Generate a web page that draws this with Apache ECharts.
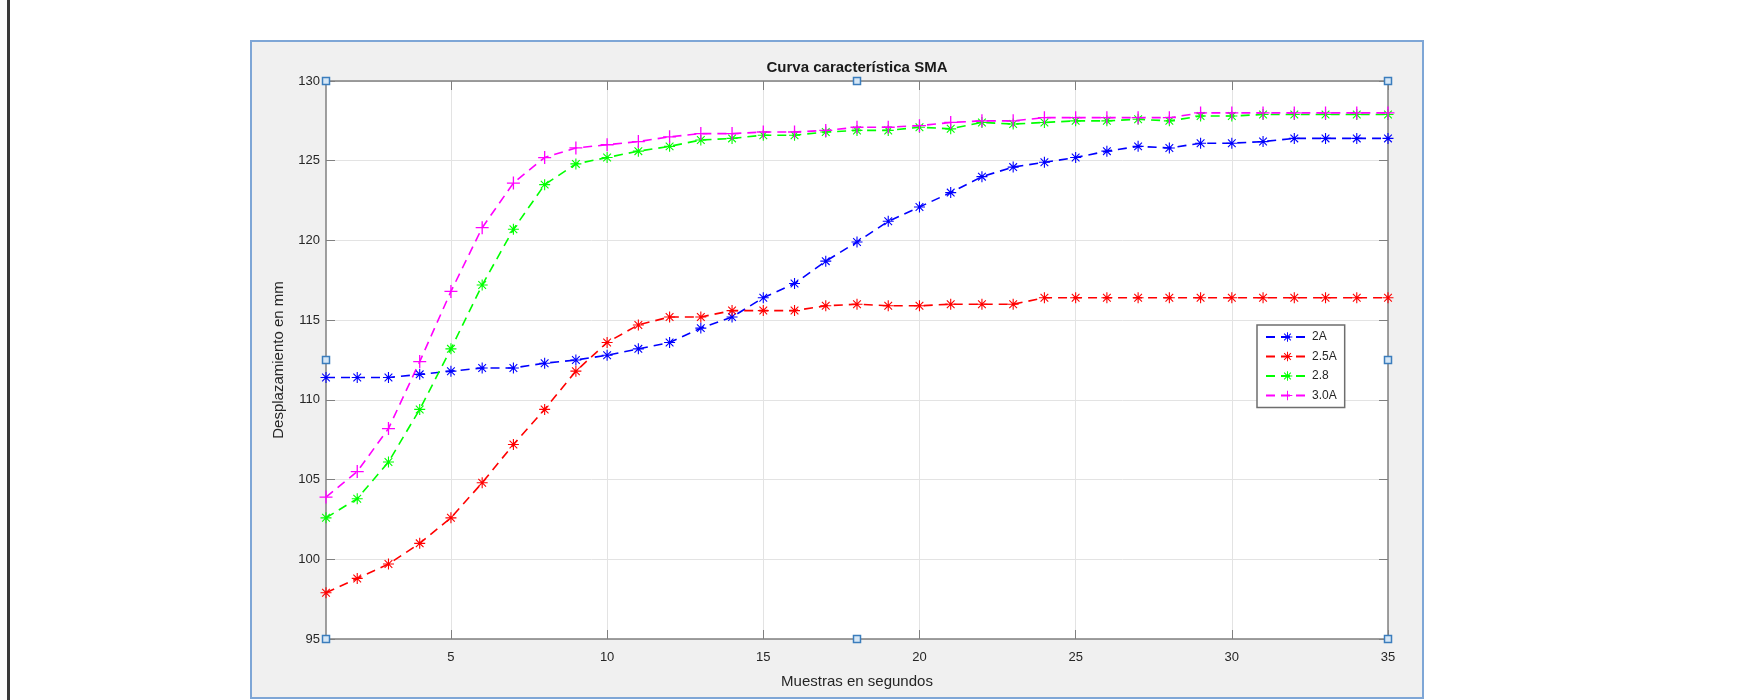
<!DOCTYPE html>
<html>
<head>
<meta charset="utf-8">
<title>Curva característica SMA</title>
<script src="https://cdn.jsdelivr.net/npm/echarts@6/dist/echarts.min.js"></script>
<style>
  html, body { margin: 0; padding: 0; background: #fff; }
  #chart { width: 1749px; height: 700px; }
</style>
</head>
<body>
<div id="chart"></div>
<script>
// muestras (segundos)
var muestras = [1,2,3,4,5,6,7,8,9,10,11,12,13,14,15,16,17,18,19,20,21,22,23,24,25,26,27,28,29,30,31,32,33,34,35];

// desplazamiento en mm
var d2A  = [111.4,111.4,111.4,111.6,111.8,112.0,112.0,112.3,112.5,112.8,113.2,113.6,114.5,115.2,116.4,117.3,118.7,119.9,121.2,122.1,123.0,124.0,124.6,124.9,125.2,125.6,125.9,125.8,126.1,126.1,126.2,126.4,126.4,126.4,126.4];
var d25A = [97.9,98.8,99.7,101.0,102.6,104.8,107.2,109.4,111.8,113.6,114.7,115.2,115.2,115.6,115.6,115.6,115.9,116.0,115.9,115.9,116.0,116.0,116.0,116.4,116.4,116.4,116.4,116.4,116.4,116.4,116.4,116.4,116.4,116.4,116.4];
var d28  = [102.6,103.8,106.1,109.4,113.2,117.2,120.7,123.5,124.8,125.2,125.6,125.9,126.3,126.4,126.6,126.6,126.8,126.9,126.9,127.1,127.0,127.4,127.3,127.4,127.5,127.5,127.6,127.5,127.8,127.8,127.9,127.9,127.9,127.9,127.9];
var d30A = [103.9,105.5,108.2,112.4,116.8,120.8,123.6,125.2,125.8,126.0,126.2,126.5,126.7,126.7,126.8,126.8,126.9,127.1,127.1,127.2,127.4,127.5,127.5,127.7,127.7,127.7,127.7,127.7,128.0,128.0,128.0,128.0,128.0,128.0,128.0];

var xTicks = [5,10,15,20,25,30,35];
var yTicks = [95,100,105,110,115,120,125,130];

// marcadores tipo matlab
var asterisco = 'path://M0 9H20V11H0Z M9 0H11V20H9Z M2.3 3.7L3.7 2.3L17.7 16.3L16.3 17.7Z M16.3 2.3L17.7 3.7L3.7 17.7L2.3 16.3Z';
var cruz = 'path://M0 9H20V11H0Z M9 0H11V20H9Z';

var fuente = 'Liberation Sans, Arial, sans-serif';
var ejeColor = '#808080';

function pares(ys) {
    var out = [];
    for (var i = 0; i < muestras.length; i++) {
        out.push([muestras[i], ys[i]]);
    }
    return out;
}

function serie(nombre, ys, color, simbolo, tam) {
    return {
        name: nombre,
        type: 'line',
        data: pares(ys),
        symbol: simbolo,
        symbolSize: tam,
        showAllSymbol: true,
        itemStyle: { color: color },
        lineStyle: { color: color, width: 1.6, type: [9, 6] },
        emphasis: { disabled: true },
        z: 3
    };
}

var chart = echarts.init(document.getElementById('chart'));

var option = {
    animation: false,
    backgroundColor: '#ffffff',
    title: {
        text: 'Curva característica SMA',
        left: 857,
        textAlign: 'center',
        top: 60,
        padding: 0,
        textStyle: { fontFamily: fuente, fontSize: 15, fontWeight: 'bold', color: '#1a1a1a' }
    },
    grid: {
        left: 326, right: 361, top: 81, bottom: 61,
        show: true, backgroundColor: '#ffffff', borderWidth: 0
    },
    legend: {
        orient: 'vertical',
        left: 1257, top: 325,
        itemWidth: 43, itemHeight: 12, itemGap: 7.5,
        padding: [6, 8, 6, 8],
        backgroundColor: '#ffffff',
        borderColor: '#6e6e6e', borderWidth: 1.5,
        textStyle: { fontFamily: fuente, fontSize: 12, color: '#262626', padding: [0, 0, 0, -2] },
        data: ['2A', '2.5A', '2.8', '3.0A']
    },
    xAxis: [{
        type: 'value', min: 1, max: 35,
        name: 'Muestras en segundos', nameLocation: 'middle', nameGap: 35,
        nameTextStyle: { fontFamily: fuente, fontSize: 15, color: '#262626' },
        axisLine: { lineStyle: { color: ejeColor, width: 1.5 } },
        axisTick: { inside: true, length: 9, customValues: xTicks, lineStyle: { color: ejeColor } },
        axisLabel: { customValues: xTicks, margin: 12, fontFamily: fuente, fontSize: 13, color: '#262626' },
        splitLine: { show: true, lineStyle: { color: '#e3e3e3', width: 1 } }
    }, {
        type: 'value', min: 1, max: 35, position: 'top',
        axisLine: { lineStyle: { color: ejeColor, width: 1.5 } },
        axisTick: { inside: true, length: 9, customValues: xTicks, lineStyle: { color: ejeColor } },
        axisLabel: { show: false },
        splitLine: { show: false }
    }],
    yAxis: [{
        type: 'value', min: 95, max: 130, interval: 5,
        name: 'Desplazamiento en mm', nameLocation: 'middle', nameGap: 40,
        nameTextStyle: { fontFamily: fuente, fontSize: 15, color: '#262626' },
        axisLine: { show: true, lineStyle: { color: ejeColor, width: 1.5 } },
        axisTick: { show: true, inside: true, length: 9, lineStyle: { color: ejeColor } },
        axisLabel: { margin: 6, fontFamily: fuente, fontSize: 13, color: '#262626' },
        splitLine: { show: true, lineStyle: { color: '#e3e3e3', width: 1 } }
    }, {
        type: 'value', min: 95, max: 130, interval: 5, position: 'right',
        axisLine: { show: true, lineStyle: { color: ejeColor, width: 1.5 } },
        axisTick: { show: true, inside: true, length: 9, lineStyle: { color: ejeColor } },
        axisLabel: { show: false },
        splitLine: { show: false }
    }],
    series: [
        serie('2A', d2A, '#0000ff', asterisco, 11),
        serie('2.5A', d25A, '#ff0000', asterisco, 11),
        serie('2.8', d28, '#00ff00', asterisco, 11),
        serie('3.0A', d30A, '#ff00ff', cruz, 13)
    ]
};

chart.setOption(option);

// fondo gris de la figura, borde y las marcas de seleccion de los ejes
var graficos = [
    { type: 'rect', z: -10, silent: true,
      shape: { x: 251, y: 41, width: 1172, height: 657 },
      style: { fill: '#f0f0f0', stroke: '#7ea6d6', lineWidth: 2 } },
    { type: 'rect', z: -10, silent: true,
      shape: { x: 7, y: 0, width: 3, height: 700 },
      style: { fill: '#3a3a3a' } }
];
var puntosX = [1, 18, 35];
var puntosY = [95, 112.5, 130];
for (var i = 0; i < puntosX.length; i++) {
    for (var j = 0; j < puntosY.length; j++) {
        if (i === 1 && j === 1) continue;
        var p = chart.convertToPixel({ gridIndex: 0 }, [puntosX[i], puntosY[j]]);
        graficos.push({
            type: 'rect', z: 20, silent: true,
            shape: { x: p[0] - 3.5, y: p[1] - 3.5, width: 7, height: 7 },
            style: { fill: '#d6e7f6', stroke: '#3b7dbd', lineWidth: 1.5 }
        });
    }
}
chart.setOption({ graphic: graficos });
</script>
</body>
</html>
